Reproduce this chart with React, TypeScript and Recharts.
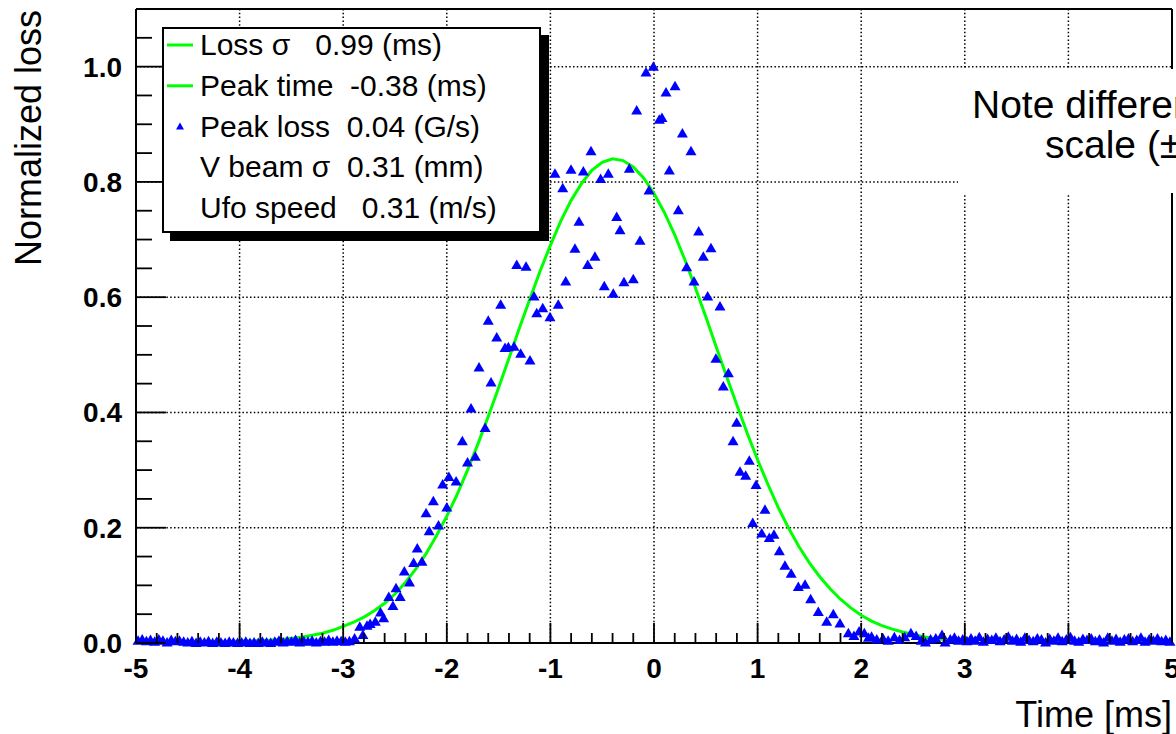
import React from 'react';
import { ComposedChart, Scatter, Line, XAxis, YAxis, CartesianGrid, Legend } from 'recharts';

const FONT = '"Liberation Sans", Arial, Helvetica, sans-serif';
const BLUE = '#0000ff';
const GREEN = '#00ff00';

const CHART_W = 1176;
const CHART_H = 734;
const PLOT_LEFT = 136;
const PLOT_RIGHT = 1172;
const PLOT_TOP = 9;
const PLOT_BOTTOM = 643;

// ---- axis definitions ----
const xDomain: [number, number] = [-5, 5];
const yDomain: [number, number] = [0, 1.1];
const xMajorTicks = [-5, -4, -3, -2, -1, 0, 1, 2, 3, 4, 5];
const xMinorPerMajor = 5;
const yMajorTicks = [0, 0.2, 0.4, 0.6, 0.8, 1.0];
const yMinorPerMajor = 4;
const yLastMinor = 1.05;
const xGridValues = [-4, -3, -2, -1, 0, 1, 2, 3, 4];
const yGridValues = [0.2, 0.4, 0.6, 0.8, 1.0];

const xTitle = 'Time [ms]';
const yTitle = 'Normalized loss';
const noteLines = ['Note different', 'scale (±'];

// ---- legend rows ----
const legendRows = [
  { text: 'Loss σ   0.99 (ms)', marker: 'line' },
  { text: 'Peak time  -0.38 (ms)', marker: 'line' },
  { text: 'Peak loss  0.04 (G/s)', marker: 'triangle' },
  { text: 'V beam σ  0.31 (mm)', marker: 'none' },
  { text: 'Ufo speed   0.31 (m/s)', marker: 'none' },
];

// ---- measured peak loss points [time ms, normalized loss] ----
const lossLeftTail: [number, number][] = [
  [-4.98, 0.004], [-4.94, 0.006], [-4.9, 0.003], [-4.86, 0.005], [-4.82, 0.002], [-4.78, 0.006],
  [-4.74, 0.004], [-4.7, 0.001], [-4.66, 0.005], [-4.62, 0.003], [-4.58, 0.004], [-4.54, 0.002],
  [-4.5, 0.001], [-4.46, 0.003], [-4.42, 0.0], [-4.38, 0.002], [-4.34, 0.001], [-4.3, 0.003],
  [-4.26, 0.0], [-4.22, 0.002], [-4.18, 0.001], [-4.14, 0.0], [-4.1, 0.002], [-4.06, 0.001],
  [-4.02, 0.0], [-3.98, 0.001], [-3.94, 0.002], [-3.9, 0.0], [-3.86, 0.001], [-3.82, 0.0],
  [-3.78, 0.002], [-3.74, 0.001], [-3.7, 0.0], [-3.66, 0.002], [-3.62, 0.004], [-3.58, 0.001],
  [-3.54, 0.003], [-3.5, 0.002], [-3.46, 0.005], [-3.42, 0.001], [-3.38, 0.003], [-3.34, 0.002],
  [-3.3, 0.004], [-3.26, 0.001], [-3.22, 0.003], [-3.18, 0.002], [-3.14, 0.005], [-3.1, 0.002],
  [-3.06, 0.004], [-3.02, 0.003], [-2.98, 0.002], [-2.94, 0.003],
];

const lossRise: [number, number][] = [
  [-2.89, 0.008], [-2.84, 0.028], [-2.81, 0.014], [-2.77, 0.03], [-2.74, 0.033], [-2.69, 0.037],
  [-2.64, 0.053], [-2.61, 0.043], [-2.56, 0.08], [-2.52, 0.064], [-2.49, 0.095], [-2.45, 0.08],
  [-2.41, 0.124], [-2.36, 0.105], [-2.32, 0.139], [-2.285, 0.164], [-2.24, 0.141], [-2.2, 0.225],
  [-2.17, 0.194], [-2.13, 0.246], [-2.08, 0.204], [-2.04, 0.275], [-2.0, 0.235], [-1.98, 0.288],
  [-1.91, 0.28], [-1.85, 0.35], [-1.8, 0.313], [-1.766, 0.407], [-1.725, 0.323], [-1.689, 0.478],
  [-1.63, 0.373], [-1.6, 0.559], [-1.573, 0.452], [-1.518, 0.53], [-1.48, 0.587], [-1.438, 0.512],
  [-1.406, 0.513], [-1.351, 0.514], [-1.325, 0.656], [-1.287, 0.502], [-1.235, 0.653], [-1.197, 0.49],
  [-1.158, 0.601], [-1.132, 0.572], [-1.074, 0.581], [-1.004, 0.565],
];

const lossPeak: [number, number][] = [
  [-0.956, 0.814], [-0.924, 0.587], [-0.881, 0.789], [-0.852, 0.627], [-0.801, 0.821], [-0.763, 0.684],
  [-0.724, 0.731], [-0.682, 0.818], [-0.64, 0.656], [-0.608, 0.853], [-0.57, 0.67], [-0.515, 0.805],
  [-0.48, 0.619], [-0.441, 0.814], [-0.393, 0.606], [-0.36, 0.739], [-0.328, 0.716], [-0.29, 0.626],
  [-0.238, 0.823], [-0.2, 0.631], [-0.167, 0.924], [-0.135, 0.698], [-0.077, 0.99], [-0.048, 0.785],
  [-0.006, 1.0], [0.051, 0.908], [0.077, 0.911], [0.116, 0.955], [0.148, 0.82], [0.203, 0.966],
  [0.235, 0.751], [0.274, 0.884], [0.315, 0.652], [0.357, 0.853], [0.386, 0.627], [0.431, 0.714],
  [0.476, 0.67], [0.518, 0.601], [0.55, 0.685], [0.598, 0.493], [0.637, 0.584], [0.669, 0.445],
  [0.718, 0.468], [0.763, 0.35], [0.798, 0.382],
];

const lossFall: [number, number][] = [
  [0.83, 0.297], [0.885, 0.29], [0.92, 0.316], [0.953, 0.208], [0.985, 0.274], [1.04, 0.19],
  [1.071, 0.231], [1.113, 0.182], [1.158, 0.188], [1.21, 0.159], [1.264, 0.134], [1.324, 0.12],
  [1.393, 0.097], [1.458, 0.101], [1.512, 0.076], [1.586, 0.054], [1.667, 0.037], [1.731, 0.05],
  [1.795, 0.034], [1.876, 0.017], [1.93, 0.012], [1.98, 0.02], [2.03, 0.017], [2.07, 0.009],
  [2.1, 0.011], [2.15, 0.006], [2.21, 0.008], [2.26, 0.004], [2.32, 0.01], [2.37, 0.005],
  [2.42, 0.01], [2.48, 0.017], [2.53, 0.012], [2.58, 0.004], [2.62, 0.001], [2.67, 0.006],
  [2.72, 0.008], [2.78, 0.014], [2.81, 0.001], [2.86, 0.006], [2.9, 0.009], [2.94, 0.004],
];

const lossRightTail: [number, number][] = [
  [2.98, 0.006], [3.02, 0.003], [3.06, 0.008], [3.1, 0.004], [3.14, 0.01], [3.18, 0.002],
  [3.22, 0.007], [3.26, 0.005], [3.3, 0.009], [3.34, 0.003], [3.38, 0.006], [3.42, 0.011],
  [3.46, 0.004], [3.5, 0.007], [3.54, 0.002], [3.58, 0.009], [3.62, 0.005], [3.66, 0.003],
  [3.7, 0.008], [3.74, 0.006], [3.78, 0.001], [3.82, 0.007], [3.86, 0.004], [3.9, 0.009],
  [3.94, 0.003], [3.98, 0.006], [4.02, 0.01], [4.06, 0.004], [4.1, 0.002], [4.14, 0.007],
  [4.18, 0.005], [4.22, 0.008], [4.26, 0.003], [4.3, 0.006], [4.34, 0.001], [4.38, 0.009],
  [4.42, 0.004], [4.46, 0.007], [4.5, 0.002], [4.54, 0.006], [4.58, 0.008], [4.62, 0.003],
  [4.66, 0.005], [4.7, 0.009], [4.74, 0.002], [4.78, 0.006], [4.82, 0.004], [4.86, 0.008],
  [4.9, 0.003], [4.94, 0.005], [4.98, 0.002],
];

// ---- fitted loss curve [time ms, normalized loss] ----
const fitCurve: [number, number][] = [
  [-4.95, 0.001], [-4.5, 0.001], [-4.0, 0.003], [-3.8, 0.004], [-3.6, 0.006], [-3.4, 0.01],
  [-3.2, 0.017], [-3.1, 0.022], [-3.0, 0.029], [-2.9, 0.036], [-2.8, 0.045], [-2.7, 0.056],
  [-2.6, 0.069], [-2.5, 0.085], [-2.4, 0.105], [-2.3, 0.128], [-2.2, 0.155], [-2.1, 0.186],
  [-2.0, 0.22], [-1.9, 0.258], [-1.8, 0.3], [-1.7, 0.345], [-1.6, 0.393], [-1.5, 0.443],
  [-1.4, 0.494], [-1.3, 0.546], [-1.2, 0.596], [-1.1, 0.645], [-1.0, 0.69], [-0.9, 0.732],
  [-0.8, 0.768], [-0.7, 0.797], [-0.6, 0.82], [-0.5, 0.834], [-0.4, 0.84], [-0.3, 0.837],
  [-0.2, 0.826], [-0.1, 0.807], [0.0, 0.78], [0.1, 0.747], [0.2, 0.708], [0.3, 0.664],
  [0.4, 0.616], [0.5, 0.566], [0.6, 0.514], [0.7, 0.463], [0.8, 0.413], [0.9, 0.364],
  [1.0, 0.318], [1.1, 0.275], [1.2, 0.235], [1.3, 0.199], [1.4, 0.167], [1.5, 0.139],
  [1.6, 0.115], [1.7, 0.094], [1.8, 0.076], [1.9, 0.061], [2.0, 0.048], [2.1, 0.038],
  [2.2, 0.03], [2.3, 0.024], [2.4, 0.019], [2.5, 0.015], [2.6, 0.011], [2.7, 0.008],
  [2.8, 0.006], [2.9, 0.004], [2.95, 0.003],
];

const toRows = (pts: [number, number][]) => pts.map(([t, v]) => ({ t, v }));
const lossData = toRows([...lossLeftTail, ...lossRise, ...lossPeak, ...lossFall, ...lossRightTail]);
const fitData = toRows(fitCurve);

const rnd = (v: number) => Math.round(v * 1000) / 1000;
const buildTicks = (majors: number[], perMajor: number, last: number) => {
  const step = (majors[1] - majors[0]) / perMajor;
  const out: number[] = [];
  for (let i = 0; rnd(majors[0] + i * step) <= last + 1e-9; i++) out.push(rnd(majors[0] + i * step));
  return out;
};
const xTicks = buildTicks(xMajorTicks, xMinorPerMajor, xMajorTicks[xMajorTicks.length - 1]);
const yTicks = buildTicks(yMajorTicks, yMinorPerMajor, yLastMinor);
const isMajor = (majors: number[], v: number) => majors.some((m) => Math.abs(m - v) < 1e-6);

const TICK_W = 1.8;

const BottomTick = (props: any) => {
  const { x, y, payload } = props;
  const v = payload.value;
  const major = isMajor(xMajorTicks, v);
  return (
    <g>
      <line x1={x} x2={x} y1={y} y2={y - (major ? 20 : 10)} stroke="#000" strokeWidth={TICK_W} />
      {major && (
        <text x={x} y={y + 35} textAnchor="middle" fontFamily={FONT} fontWeight="bold" fontSize={28} fill="#000">
          {String(v)}
        </text>
      )}
    </g>
  );
};

const TopTick = (props: any) => {
  const { x, y, payload } = props;
  const major = isMajor(xMajorTicks, payload.value);
  return <line x1={x} x2={x} y1={y} y2={y + (major ? 17 : 8)} stroke="#000" strokeWidth={TICK_W} />;
};

const LeftTick = (props: any) => {
  const { x, y, payload } = props;
  const v = payload.value;
  const major = isMajor(yMajorTicks, v);
  return (
    <g>
      <line x1={x} x2={x + (major ? 30 : 16)} y1={y} y2={y} stroke="#000" strokeWidth={TICK_W} />
      {major && (
        <text x={x - 14} y={y + 10} textAnchor="end" fontFamily={FONT} fontWeight="bold" fontSize={28} fill="#000">
          {v.toFixed(1)}
        </text>
      )}
    </g>
  );
};

const RightTick = (props: any) => {
  const { x, y, payload } = props;
  const major = isMajor(yMajorTicks, payload.value);
  return <line x1={x} x2={x - (major ? 30 : 15)} y1={y} y2={y} stroke="#000" strokeWidth={TICK_W} />;
};

const Triangle = (props: any) => {
  const { cx, cy } = props;
  if (cx == null || cy == null) return null;
  return <polygon points={`${cx},${cy - 5.5} ${cx - 5.5},${cy + 4} ${cx + 5.5},${cy + 4}`} fill={BLUE} />;
};

const XTitle = () => (
  <text x={PLOT_RIGHT} y={PLOT_BOTTOM + 84} textAnchor="end" fontFamily={FONT} fontSize={36} fill="#000">
    {xTitle}
  </text>
);

const YTitle = () => (
  <text
    transform="rotate(-90)"
    x={-(PLOT_TOP + 1)}
    y={41}
    textAnchor="end"
    fontFamily={FONT}
    fontSize={36}
    fill="#000"
  >
    {yTitle}
  </text>
);

const LEGEND_LEFT = 162;
const LEGEND_TOP = 27;
const LEGEND_W = 379;
const LEGEND_H = 206;

const LegendBox = () => (
  <div
    style={{
      width: LEGEND_W,
      height: LEGEND_H,
      boxSizing: 'border-box',
      border: '2px solid #000',
      background: '#fff',
      boxShadow: '8px 8px 0 0 #000',
    }}
  >
    <svg width={LEGEND_W - 4} height={LEGEND_H - 4} style={{ display: 'block' }}>
      {legendRows.map((row, i) => {
        const base = 26 + i * 40.8;
        const cy = base - 10;
        return (
          <g key={row.text}>
            {row.marker === 'line' && <line x1={3} x2={29} y1={cy} y2={cy} stroke={GREEN} strokeWidth={3} />}
            {row.marker === 'triangle' && (
              <polygon points={`16,${cy - 4} 12,${cy + 3} 20,${cy + 3}`} fill={BLUE} />
            )}
            <text x={36} y={base} fontFamily={FONT} fontSize={30} fill="#000" style={{ whiteSpace: 'pre' }}>
              {row.text}
            </text>
          </g>
        );
      })}
    </svg>
  </div>
);

export default function App() {
  return (
    <div style={{ position: 'absolute', left: 0, top: 0, width: CHART_W, height: CHART_H, overflow: 'hidden', background: '#fff' }}>
      <ComposedChart width={CHART_W} height={CHART_H} margin={{ top: 0, right: 0, bottom: 0, left: 0 }}>
        <CartesianGrid
          xAxisId="bottom"
          yAxisId="left"
          horizontalValues={yGridValues}
          verticalValues={xGridValues}
          stroke="#000"
          strokeWidth={1.5}
          strokeDasharray="1.5 2.3"
        />
        <XAxis
          xAxisId="bottom"
          dataKey="t"
          type="number"
          orientation="bottom"
          domain={xDomain}
          ticks={xTicks}
          interval={0}
          height={CHART_H - PLOT_BOTTOM}
          tickSize={0}
          tickMargin={0}
          tickLine={false}
          axisLine={{ stroke: '#000', strokeWidth: 2 }}
          tick={BottomTick}
          label={{ value: xTitle, content: XTitle }}
        />
        <XAxis
          xAxisId="top"
          type="number"
          orientation="top"
          domain={xDomain}
          ticks={xTicks}
          interval={0}
          height={PLOT_TOP}
          tickSize={0}
          tickMargin={0}
          tickLine={false}
          axisLine={{ stroke: '#000', strokeWidth: 2 }}
          tick={TopTick}
        />
        <YAxis
          yAxisId="left"
          type="number"
          orientation="left"
          domain={yDomain}
          ticks={yTicks}
          interval={0}
          width={PLOT_LEFT}
          tickSize={0}
          tickMargin={0}
          tickLine={false}
          axisLine={{ stroke: '#000', strokeWidth: 2 }}
          tick={LeftTick}
          label={{ value: yTitle, content: YTitle }}
        />
        <YAxis
          yAxisId="right"
          type="number"
          orientation="right"
          domain={yDomain}
          ticks={yTicks}
          interval={0}
          width={CHART_W - PLOT_RIGHT}
          tickSize={0}
          tickMargin={0}
          tickLine={false}
          axisLine={{ stroke: '#000', strokeWidth: 2 }}
          tick={RightTick}
        />
        <Line
          xAxisId="bottom"
          yAxisId="left"
          data={fitData}
          dataKey="v"
          type="linear"
          stroke={GREEN}
          strokeWidth={3}
          dot={false}
          activeDot={false}
          isAnimationActive={false}
        />
        <Scatter
          xAxisId="bottom"
          yAxisId="left"
          data={lossData}
          dataKey="v"
          shape={Triangle}
          fill={BLUE}
          isAnimationActive={false}
        />
        <Legend
          layout="vertical"
          align="center"
          verticalAlign="middle"
          content={LegendBox}
          wrapperStyle={{ left: LEGEND_LEFT, top: LEGEND_TOP, width: LEGEND_W + 8, height: LEGEND_H + 8 }}
        />
      </ComposedChart>
      <svg
        width={CHART_W}
        height={CHART_H}
        style={{ position: 'absolute', left: 0, top: 0, pointerEvents: 'none' }}
      >
        <rect x={958} y={69} width={CHART_W - 958} height={124} fill="#fff" />
        <text x={972} y={118} fontFamily={FONT} fontSize={39} fill="#000">{noteLines[0]}</text>
        <text x={1045} y={158} fontFamily={FONT} fontSize={39} fill="#000">{noteLines[1]}</text>
      </svg>
    </div>
  );
}
